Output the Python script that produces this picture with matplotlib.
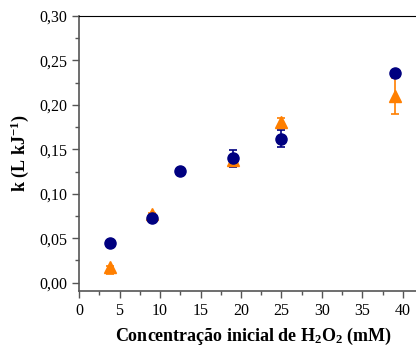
import matplotlib.pyplot as plt
from matplotlib.ticker import MultipleLocator, FuncFormatter

# serie azul (circulos)
x_azul = [3.8, 9.0, 12.5, 19.0, 25.0, 39.0]
k_azul = [0.045, 0.073, 0.126, 0.140, 0.162, 0.236]
err_azul = [0.002, 0.002, 0.002, 0.0095, 0.0095, 0.002]

# serie laranja (triangulos)
x_lar = [3.8, 9.0, 19.0, 25.0, 39.0]
k_lar = [0.018, 0.077, 0.138, 0.181, 0.210]
err_lar_baixo = [0.008, 0.004, 0.006, 0.004, 0.020]
err_lar_cima = [0.001, 0.001, 0.006, 0.004, 0.020]

plt.rcParams['font.family'] = ['Liberation Serif', 'DejaVu Serif']
plt.rcParams['mathtext.fontset'] = 'custom'
plt.rcParams['mathtext.rm'] = 'Liberation Serif'
plt.rcParams['mathtext.it'] = 'Liberation Serif:italic'
plt.rcParams['mathtext.bf'] = 'Liberation Serif:bold'

fig = plt.figure(figsize=(4.16, 3.47), dpi=100)
ax = fig.add_axes([0.19, 0.1614, 0.837, 0.7925])

ax.errorbar(x_lar, k_lar, yerr=[err_lar_baixo, err_lar_cima], fmt='^', color='#ff7f00',
            ms=8.5, capsize=3, elinewidth=1.2, capthick=1.2)
ax.errorbar(x_azul, k_azul, yerr=err_azul, fmt='o', color='#000080', ms=8,
            capsize=3, elinewidth=1.2, capthick=1.2)

ax.set_xlim(0, 43)
ax.set_ylim(-0.0093, 0.30)
ax.xaxis.set_major_locator(MultipleLocator(5))
ax.xaxis.set_minor_locator(MultipleLocator(2.5))
ax.yaxis.set_major_locator(MultipleLocator(0.05))
ax.yaxis.set_minor_locator(MultipleLocator(0.025))
ax.yaxis.set_major_formatter(FuncFormatter(lambda v, p: f"{v:.2f}".replace('.', ',')))

for s in ['left', 'bottom']:
    ax.spines[s].set_color('#555555')
    ax.spines[s].set_linewidth(1.2)
ax.spines['top'].set_color('black')
ax.spines['right'].set_visible(False)

ax.tick_params(which='major', direction='out', length=5, width=1, color='#555555',
               labelsize=11.5, top=False, right=False)
ax.tick_params(which='minor', direction='out', length=3, width=1, color='#555555',
               top=False, right=False)

ax.set_xlabel('Concentração inicial de H$_\\mathbf{2}$O$_\\mathbf{2}$ (mM)',
              fontsize=13, fontweight='bold', labelpad=5)
ax.set_ylabel('k (L kJ$^\\mathbf{-1}$)', fontsize=13, fontweight='bold', labelpad=6)

fig.savefig('out.png', dpi=100)
